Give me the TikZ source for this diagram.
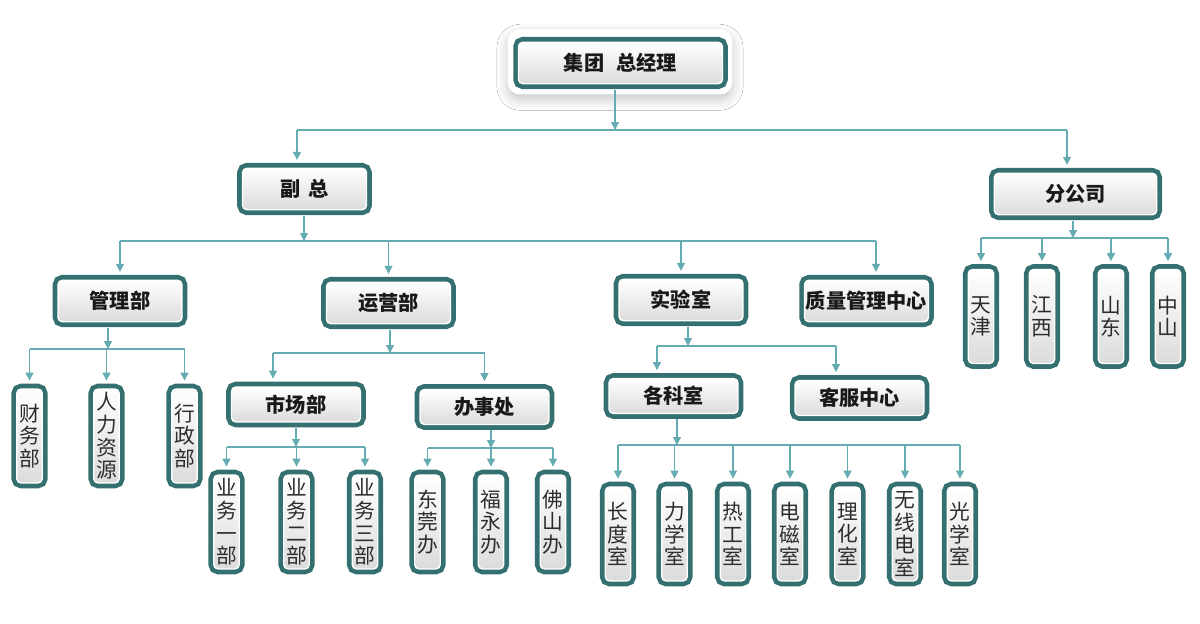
\documentclass[tikz,border=0pt]{standalone}
\usepackage{fontspec}
\setmainfont{Noto Sans CJK SC}
\usetikzlibrary{arrows.meta,positioning,calc,shadows.blur}
\definecolor{frameteal}{RGB}{52,112,112}
\definecolor{linkteal}{RGB}{100,172,178}
\definecolor{textgrey}{RGB}{45,45,45}

\begin{document}
\begin{tikzpicture}[x=0.02cm, y=-0.02cm,
    frame/.style={rectangle, rounded corners=2.5pt, draw=white, line width=0.8pt,
                  top color=white, bottom color=black!14,
                  preaction={draw=frameteal, line width=6pt},
                  inner sep=0pt, align=center},
    unit/.style={frame, minimum width=2.48cm, minimum height=0.83cm,
                 font=\fontsize{11.5}{13}\selectfont\bfseries, text=black!90},
    subunit/.style={unit, minimum width=2.58cm, minimum height=0.7cm},
    dept/.style={frame, minimum width=0.51cm, minimum height=1.88cm,
                 font=\fontsize{11.8}{12.9}\selectfont, text=textgrey},
    glow/.style={rectangle, rounded corners=7pt, fill=white,
                 minimum width=4.5cm, minimum height=1.3cm,
                 blur shadow={shadow xshift=0pt, shadow yshift=-3pt,
                              shadow blur radius=6pt, shadow opacity=22}},
    link/.style={draw=linkteal, line width=0.7pt,
                 -{Triangle[length=4.5pt,width=4.5pt]}, shorten >=4.4pt},
    tolink/.style={link, shorten >=0pt, shorten <=3pt},
    bus/.style={draw=linkteal, line width=0.7pt}
]
\fill[white] (0,0) rectangle (1200,624);
\useasboundingbox (0,0) rectangle (1200,624);

% head and first level
\node[glow] (gmglow) at (620,62) {};
\node[unit, minimum width=4.08cm] (gm) at (620.5,63) {集团\hspace{0.6em}总经理};
\node[unit] (vp) at (304.5,189) {副\hspace{0.4em}总};
\node[unit, minimum width=3.25cm] (branch) at (1075.5,194) {分公司};

% departments
\node[unit] (mgmt) at (120,301) {管理部};
\node[unit] (ops) at (388.5,303) {运营部};
\node[unit] (lab) at (681,300) {实验室};
\node[unit] (qc) at (866.5,301) {质量管理中心};
\node[subunit] (mkt) at (296,404.5) {市场部};
\node[subunit] (office) at (484.5,407) {办事处};
\node[subunit] (sect) at (673.5,396) {各科室};
\node[subunit] (service) at (859.5,398) {客服中心};

% vertical boxes
\node[dept] (fin) at (29.5,436) {财\\务\\部};
\node[dept] (hr) at (106.5,436) {人\\力\\资\\源};
\node[dept] (admin) at (184.5,436) {行\\政\\部};
\node[dept] (biz1) at (226.5,522) {业\\务\\一\\部};
\node[dept] (biz2) at (296.5,522) {业\\务\\二\\部};
\node[dept] (biz3) at (365,522) {业\\务\\三\\部};
\node[dept] (dg) at (427.5,522) {东\\莞\\办};
\node[dept] (fy) at (491,522) {福\\永\\办};
\node[dept] (fs) at (553,522) {佛\\山\\办};
\node[dept] (len) at (618,534) {长\\度\\室};
\node[dept] (mech) at (674.5,534) {力\\学\\室};
\node[dept] (heat) at (733,534) {热\\工\\室};
\node[dept] (emag) at (790,534) {电\\磁\\室};
\node[dept] (chem) at (847.5,534) {理\\化\\室};
\node[dept] (radio) at (905,534) {无\\线\\电\\室};
\node[dept] (optic) at (960,534) {光\\学\\室};
\node[dept] (tj) at (981,316.5) {天\\津};
\node[dept] (jx) at (1042,316.5) {江\\西};
\node[dept] (sd) at (1111,316.5) {山\\东};
\node[dept] (zs) at (1168,316.5) {中\\山};

% 总经理
\coordinate (gmout) at (615,130);
\coordinate (vpin) at (297,130);
\coordinate (brin) at (1067,130);
\draw[tolink] (gmout |- gm.south) -- (gmout);
\draw[bus] (vpin) -- (brin);
\draw[link] (vpin) -- (vpin |- vp.north);
\draw[link] (brin) -- (brin |- branch.north);

% 副总
\coordinate (vpout) at (304,241);
\coordinate (qcin) at (876,241);
\draw[tolink] (vpout |- vp.south) -- (vpout);
\draw[bus] (vpout -| mgmt.north) -- (qcin);
\draw[link] (vpout -| mgmt.north) -- (mgmt.north);
\draw[link] (vpout -| ops.north) -- (ops.north);
\draw[link] (vpout -| lab.north) -- (lab.north);
\draw[link] (qcin) -- (qcin |- qc.north);

% 管理部
\coordinate (mgout) at (108,349);
\draw[tolink] (mgout |- mgmt.south) -- (mgout);
\draw[bus] (mgout -| fin.north) -- (mgout -| admin.north);
\draw[link] (mgout -| fin.north) -- (fin.north);
\draw[link] (mgout -| hr.north) -- (hr.north);
\draw[link] (mgout -| admin.north) -- (admin.north);

% 运营部
\coordinate (opout) at (390,353);
\coordinate (mkin) at (273,353);
\draw[tolink] (opout |- ops.south) -- (opout);
\draw[bus] (mkin) -- (opout -| office.north);
\draw[link] (mkin) -- (mkin |- mkt.north);
\draw[link] (opout -| office.north) -- (office.north);

% 市场部
\coordinate (mkout) at (296,447);
\draw[tolink] (mkout |- mkt.south) -- (mkout);
\draw[bus] (mkout -| biz1.north) -- (mkout -| biz3.north);
\draw[link] (mkout -| biz1.north) -- (biz1.north);
\draw[link] (mkout -| biz2.north) -- (biz2.north);
\draw[link] (mkout -| biz3.north) -- (biz3.north);

% 办事处
\coordinate (ofout) at (491,448);
\draw[tolink] (ofout |- office.south) -- (ofout);
\draw[bus] (ofout -| dg.north) -- (ofout -| fs.north);
\draw[link] (ofout -| dg.north) -- (dg.north);
\draw[link] (ofout -| fy.north) -- (fy.north);
\draw[link] (ofout -| fs.north) -- (fs.north);

% 实验室
\coordinate (lbout) at (688,346);
\coordinate (scin) at (657,346);
\coordinate (svin) at (836,346);
\draw[tolink] (lbout |- lab.south) -- (lbout);
\draw[bus] (scin) -- (svin);
\draw[link] (scin) -- (scin |- sect.north);
\draw[link] (svin) -- (svin |- service.north);

% 各科室
\coordinate (scout) at (677,445);
\draw[tolink] (scout |- sect.south) -- (scout);
\draw[bus] (scout -| len.north) -- (scout -| optic.north);
\draw[link] (scout -| len.north) -- (len.north);
\draw[link] (scout -| mech.north) -- (mech.north);
\draw[link] (scout -| heat.north) -- (heat.north);
\draw[link] (scout -| emag.north) -- (emag.north);
\draw[link] (scout -| chem.north) -- (chem.north);
\draw[link] (scout -| radio.north) -- (radio.north);
\draw[link] (scout -| optic.north) -- (optic.north);

% 分公司
\coordinate (brout) at (1073,238);
\draw[tolink] (brout |- branch.south) -- (brout);
\draw[bus] (brout -| tj.north) -- (brout -| zs.north);
\draw[link] (brout -| tj.north) -- (tj.north);
\draw[link] (brout -| jx.north) -- (jx.north);
\draw[link] (brout -| sd.north) -- (sd.north);
\draw[link] (brout -| zs.north) -- (zs.north);
\end{tikzpicture}
\end{document}
